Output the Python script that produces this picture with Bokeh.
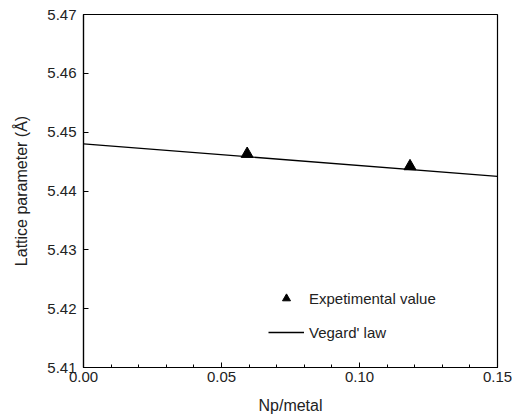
from bokeh.plotting import figure
from bokeh.models import Range1d, Legend, LegendItem, FixedTicker
from bokeh.embed import file_html
from bokeh.resources import INLINE

# Data
exp_x = [0.0593, 0.1183]
exp_y = [5.4463, 5.4442]
vegard_x = [0.0, 0.15]
vegard_y = [5.4480, 5.4425]
x_ticks = [0.00, 0.05, 0.10, 0.15]
y_ticks = [5.41, 5.42, 5.43, 5.44, 5.45, 5.46, 5.47]

FONT = "Liberation Sans"

p = figure(width=518, height=420, output_backend="svg", toolbar_location=None,
           x_range=Range1d(0, 0.15), y_range=Range1d(5.41, 5.47),
           min_border_left=83, min_border_right=21, min_border_top=14, min_border_bottom=53)
p.xgrid.visible = False
p.ygrid.visible = False
p.outline_line_color = "black"
p.outline_line_width = 1.2
p.background_fill_color = "white"
p.border_fill_color = "white"

l1 = p.line(vegard_x, vegard_y, line_color="black", line_width=1.3)
s1 = p.scatter(exp_x, exp_y, marker="triangle", size=12, fill_color="black", line_color="black")

for ax in (p.xaxis[0], p.yaxis[0]):
    ax.axis_line_color = "black"
    ax.axis_line_width = 1.2
    ax.major_tick_in = 5
    ax.major_tick_out = 0
    ax.minor_tick_in = 3
    ax.minor_tick_out = 0
    ax.major_tick_line_color = "black"
    ax.minor_tick_line_color = "black"
    ax.major_label_text_font = FONT
    ax.major_label_text_font_size = "15px"
    ax.major_label_text_color = "#222222"
    ax.axis_label_text_font = FONT
    ax.axis_label_text_font_size = "16px"
    ax.axis_label_text_font_style = "normal"
    ax.axis_label_text_color = "#222222"

p.xaxis.ticker = FixedTicker(ticks=x_ticks, minor_ticks=[i / 100 for i in range(16)])
p.xaxis.major_label_overrides = {t: f"{t:.2f}" for t in x_ticks}
p.yaxis.ticker = FixedTicker(ticks=y_ticks, minor_ticks=[])
p.yaxis.major_label_overrides = {t: f"{t:.2f}" for t in y_ticks}
p.xaxis.axis_label = "Np/metal"
p.yaxis.axis_label = "Lattice parameter (Å)"
p.xaxis.major_label_standoff = 4
p.yaxis.major_label_standoff = 7
p.xaxis.axis_label_standoff = 12
p.yaxis.axis_label_standoff = 14

legend = Legend(items=[LegendItem(label="Expetimental value", renderers=[s1]),
                       LegendItem(label="Vegard' law", renderers=[l1])],
                location=(185, 25), border_line_color=None, background_fill_alpha=0,
                padding=0, margin=0, spacing=14, glyph_width=36, glyph_height=20,
                label_standoff=5, label_text_font=FONT, label_text_font_size="15px",
                label_text_color="#222222")
p.add_layout(legend)

open("out.html", "w").write(file_html(p, INLINE))
